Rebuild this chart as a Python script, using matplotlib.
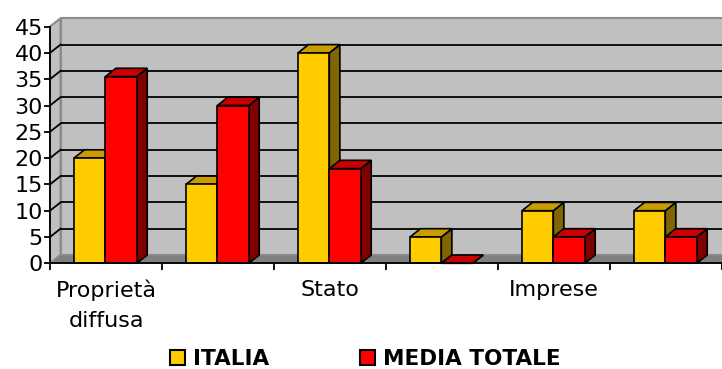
import matplotlib
matplotlib.use("Agg")
import matplotlib.pyplot as plt
from matplotlib.patches import Polygon, Patch


categories = ["Proprietà\ndiffusa", "", "Stato", "", "Imprese", ""]
italia = [20, 15, 40, 5, 10, 10]
media_totale = [35.5, 30, 18, 0, 5, 5]
series_names = ["ITALIA", "MEDIA TOTALE"]
y_ticks = [0, 5, 10, 15, 20, 25, 30, 35, 40, 45]

# front / top / side shades for each series
SHADES = {
    "ITALIA": ("#FFCC00", "#C89B00", "#7F6600"),
    "MEDIA TOTALE": ("#FF0000", "#C80000", "#800000"),
}
WALL = "#C0C0C0"
FLOOR = "#808080"
EDGE_GRAY = "#8C8C8C"

Y_MAX = 45
DX = 0.094   # depth offset in category units
DY = 1.58    # depth offset in value units
BAR_START = 0.214
BAR_WIDTH = 0.28
FONT_SIZE = 16


def add_poly(ax, pts, face, edge="black", lw=1.2, z=3):
    ax.add_patch(Polygon(pts, closed=True, facecolor=face, edgecolor=edge,
                         linewidth=lw, zorder=z, clip_on=False,
                         joinstyle="miter"))


def draw_box(ax, x0, height, shades, z):
    front, top, side = shades
    x1 = x0 + BAR_WIDTH
    add_poly(ax, [(x1, 0), (x1 + DX, DY), (x1 + DX, height + DY), (x1, height)], side, z=z)
    add_poly(ax, [(x0, height), (x1, height), (x1 + DX, height + DY), (x0 + DX, height + DY)], top, z=z)
    if height > 0:
        add_poly(ax, [(x0, 0), (x1, 0), (x1, height), (x0, height)], front, z=z)


def draw_walls(ax, n):
    # back wall, left wall and floor of the 3D box
    add_poly(ax, [(DX, DY), (n + DX + 1, DY), (n + DX + 1, Y_MAX + DY), (DX, Y_MAX + DY)],
             WALL, edge=EDGE_GRAY, lw=1.5, z=0.5)
    add_poly(ax, [(0, 0), (DX, DY), (DX, Y_MAX + DY), (0, Y_MAX)],
             WALL, edge=EDGE_GRAY, lw=1.5, z=0.6)
    add_poly(ax, [(0, 0), (n + 1, 0), (n + DX + 1, DY), (DX, DY)],
             FLOOR, edge=EDGE_GRAY, lw=1.0, z=0.7)
    for v in y_ticks[1:-1]:
        ax.plot([DX, n + DX + 1], [v + DY, v + DY], color="black", lw=1.3,
                zorder=0.8, clip_on=False, solid_capstyle="butt")
        ax.plot([0, DX], [v, v + DY], color="black", lw=1.3,
                zorder=0.8, clip_on=False)


fig = plt.figure(figsize=(7.22, 3.69), dpi=100)
fig.patch.set_facecolor("white")
ax = fig.add_axes([50 / 722, 105.7 / 369, 672 / 722, 236.7 / 369])
ax.set_facecolor("none")

n = len(categories)
draw_walls(ax, n)

z = 3
for i in range(n):
    draw_box(ax, i + BAR_START, italia[i], SHADES["ITALIA"], z)
    z += 0.1
    draw_box(ax, i + BAR_START + BAR_WIDTH, media_totale[i], SHADES["MEDIA TOTALE"], z)
    z += 0.1

ax.set_xlim(0, n)
ax.set_ylim(0, Y_MAX)
for side in ("top", "right"):
    ax.spines[side].set_visible(False)
for side in ("left", "bottom"):
    ax.spines[side].set_linewidth(1.3)
    ax.spines[side].set_zorder(5)

ax.set_yticks(y_ticks)
ax.set_yticklabels([str(v) for v in y_ticks], fontsize=FONT_SIZE)
ax.tick_params(axis="y", direction="out", length=4, width=1.3, pad=1)

ax.set_xticks(range(n + 1))
ax.set_xticklabels([])
ax.set_xticks([i + 0.5 for i in range(n)], minor=True)
ax.set_xticklabels(categories, minor=True, fontsize=FONT_SIZE, linespacing=1.6)
ax.tick_params(axis="x", which="major", direction="out", length=5, width=1.3)
ax.tick_params(axis="x", which="minor", length=0, pad=12)

handles = [Patch(facecolor=SHADES[s][0], edgecolor="black", linewidth=1.5) for s in series_names]
fig.legend(handles, series_names, loc="center", bbox_to_anchor=(0.506, 0.027),
           ncol=2, frameon=False, prop={"weight": "bold", "size": 15.5},
           handlelength=0.7, handleheight=0.7, handletextpad=0.4,
           columnspacing=4.2, borderpad=0, borderaxespad=0)

fig.savefig("out.png", dpi=100, facecolor="white")
